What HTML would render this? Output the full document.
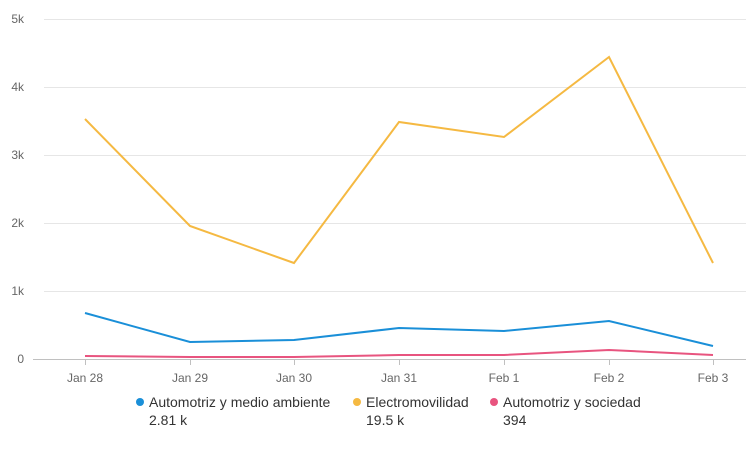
<!DOCTYPE html>
<html><head><style>
body{margin:0;background:#fff;font-family:"Liberation Sans",sans-serif;}
</style></head><body>
<svg width="756" height="446" xmlns="http://www.w3.org/2000/svg" font-family="Liberation Sans, sans-serif">
<g stroke="#e6e6e6" stroke-width="1">
<line x1="44" y1="19.5" x2="746" y2="19.5"/>
<line x1="44" y1="87.5" x2="746" y2="87.5"/>
<line x1="44" y1="155.5" x2="746" y2="155.5"/>
<line x1="44" y1="223.5" x2="746" y2="223.5"/>
<line x1="44" y1="291.5" x2="746" y2="291.5"/>
</g>
<line x1="33" y1="359.5" x2="746" y2="359.5" stroke="#c0c0c0"/>
<g stroke="#c0c0c0">
<line x1="85.5" y1="360" x2="85.5" y2="365"/><line x1="190.5" y1="360" x2="190.5" y2="365"/>
<line x1="294.5" y1="360" x2="294.5" y2="365"/><line x1="399.5" y1="360" x2="399.5" y2="365"/>
<line x1="504.5" y1="360" x2="504.5" y2="365"/><line x1="609.5" y1="360" x2="609.5" y2="365"/>
<line x1="713.5" y1="360" x2="713.5" y2="365"/>
</g>
<g font-size="12" fill="#666" text-anchor="end">
<text x="24" y="23">5k</text><text x="24" y="91">4k</text><text x="24" y="159">3k</text>
<text x="24" y="227">2k</text><text x="24" y="295">1k</text><text x="24" y="363">0</text>
</g>
<g font-size="12" fill="#666" text-anchor="middle">
<text x="85" y="382">Jan 28</text><text x="190" y="382">Jan 29</text><text x="294" y="382">Jan 30</text>
<text x="399" y="382">Jan 31</text><text x="504" y="382">Feb 1</text><text x="609" y="382">Feb 2</text><text x="713" y="382">Feb 3</text>
</g>
<polyline fill="none" stroke="#f5b942" stroke-width="2" points="85,119 190,226 294,263 399,122 504,137 609,57 713,263"/>
<polyline fill="none" stroke="#1a8fd8" stroke-width="2" points="85,313 190,342 294,340 399,328 504,331 609,321 713,346"/>
<polyline fill="none" stroke="#e8547f" stroke-width="2" points="85,356 190,357 294,357 399,355 504,355 609,350 713,355"/>
<circle cx="140" cy="402" r="4" fill="#1a8fd8"/>
<circle cx="357" cy="402" r="4" fill="#f5b942"/>
<circle cx="494" cy="402" r="4" fill="#e8547f"/>
<g font-size="14" fill="#333">
<text x="149" y="407">Automotriz y medio ambiente</text><text x="149" y="425">2.81 k</text>
<text x="366" y="407">Electromovilidad</text><text x="366" y="425">19.5 k</text>
<text x="503" y="407">Automotriz y sociedad</text><text x="503" y="425">394</text>
</g>
</svg>
</body></html>
